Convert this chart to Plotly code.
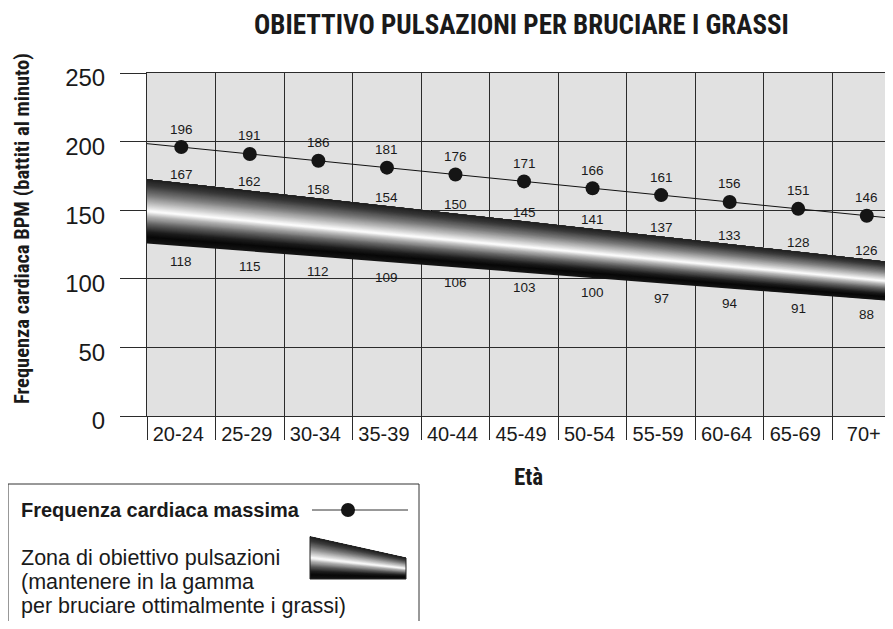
import plotly.graph_objects as go

# ---------------- data ----------------
age_groups = ["20-24", "25-29", "30-34", "35-39", "40-44", "45-49",
              "50-54", "55-59", "60-64", "65-69", "70+"]
max_hr = [196, 191, 186, 181, 176, 171, 166, 161, 156, 151, 146]
zone_upper = [167, 162, 158, 154, 150, 145, 141, 137, 133, 128, 126]
zone_lower = [118, 115, 112, 109, 106, 103, 100, 97, 94, 91, 88]
# drawn band edges at the outer column boundaries (left, right)
band_top_edge = [172.5, 111.4]
band_bottom_edge = [125.8, 83.2]
y_ticks = [0, 50, 100, 150, 200, 250]

title_text = "OBIETTIVO PULSAZIONI PER BRUCIARE I GRASSI"
y_title = "Frequenza cardiaca BPM (battiti al minuto)"
x_title = "Età"
legend_max = "Frequenza cardiaca massima"
legend_zone = ["Zona di obiettivo pulsazioni", "(mantenere in la gamma",
               "per bruciare ottimalmente i grassi)"]

# ---------------- geometry / style ----------------
OFF = 8                      # page body margin
W, H = 893 - OFF, 629 - 2 * OFF
L, R_EDGE, T, B = 147, 893, 73, 416   # page coordinates of plot area
SANS = "Liberation Sans, Arial, Helvetica, sans-serif"
COND = "Liberation Sans Narrow, Arial Narrow, Roboto Condensed, DejaVu Sans Condensed, sans-serif"
INK = "#1a1a1a"
GRID = "#2b2b2b"
COL_W = 68.55


def px(x):
    return (x - L) / (R_EDGE - L)


def py(y):
    return (B - y) / (B - T)


# gray profile across the band (top -> bottom)
stops = [(0.0, 30), (0.1, 55), (0.25, 120), (0.4, 200), (0.5, 255),
         (0.58, 180), (0.7, 95), (0.82, 28), (0.9, 8), (1.0, 22)]


def gray(f):
    for (f0, g0), (f1, g1) in zip(stops[:-1], stops[1:]):
        if f0 <= f <= f1:
            g = g0 + (g1 - g0) * (f - f0) / (f1 - f0)
            g = int(round(g))
            return f"rgb({g},{g},{g})"
    return "rgb(20,20,20)"


n = len(age_groups)
idx = list(range(n))
x_edges = [-0.5, n - 0.5]
x_right = -0.5 + (R_EDGE - L) / COL_W

fig = go.Figure()

# gradient band as overlapping polygons
N = 64
for k in reversed(range(N)):
    f = (k + 1) / N
    b0 = band_top_edge[0] + (band_bottom_edge[0] - band_top_edge[0]) * f
    b1 = band_top_edge[1] + (band_bottom_edge[1] - band_top_edge[1]) * f
    fig.add_trace(go.Scatter(
        x=[x_edges[0], x_edges[1], x_edges[1], x_edges[0]],
        y=[band_top_edge[0], band_top_edge[1], b1, b0],
        mode="lines", fill="toself", fillcolor=gray((k + 0.5) / N),
        line=dict(width=0), hoverinfo="skip", showlegend=False))

# max heart-rate line, extended to column boundaries
ext_x = [-0.5] + idx + [n - 0.5]
ext_y = ([max_hr[0] - (max_hr[1] - max_hr[0]) / 2] + max_hr +
         [max_hr[-1] + (max_hr[-1] - max_hr[-2]) / 2])
fig.add_trace(go.Scatter(x=ext_x, y=ext_y, mode="lines",
                         line=dict(color="#111", width=1),
                         hoverinfo="skip", showlegend=False))
fig.add_trace(go.Scatter(x=idx, y=max_hr, mode="markers",
                         marker=dict(size=14, color="#151515"),
                         showlegend=False))


def edge_at(edge, i):
    t = (i - x_edges[0]) / (x_edges[1] - x_edges[0])
    return edge[0] + (edge[1] - edge[0]) * t


ann = []
lab_font = dict(family=SANS, size=13.5, color=INK)
for i in idx:
    ann.append(dict(x=i, y=max_hr[i], xref="x", yref="y", text=str(max_hr[i]),
                    showarrow=False, yshift=18, font=lab_font))
    ann.append(dict(x=i, y=edge_at(band_top_edge, i), xref="x", yref="y",
                    text=str(zone_upper[i]), showarrow=False, yshift=9,
                    yanchor="middle", font=lab_font))
    ann.append(dict(x=i, y=edge_at(band_bottom_edge, i), xref="x", yref="y",
                    text=str(zone_lower[i]), showarrow=False, yshift=-15,
                    yanchor="middle", font=lab_font))

# titles
ann.append(dict(x=px(521), y=py(25), xref="paper", yref="paper",
                text=f"<b>{title_text}</b>", showarrow=False,
                xanchor="center", yanchor="middle",
                font=dict(family=COND, size=27, color=INK)))
ann.append(dict(x=px(22), y=py(229), xref="paper", yref="paper",
                text=f"<b>{y_title}</b>", showarrow=False, textangle=-90,
                xanchor="center", yanchor="middle",
                font=dict(family=COND, size=20.5, color=INK)))
ann.append(dict(x=px(528), y=py(477), xref="paper", yref="paper",
                text=f"<b>{x_title}</b>", showarrow=False,
                xanchor="center", yanchor="middle",
                font=dict(family=COND, size=23, color=INK)))

# legend texts
ann.append(dict(x=px(19), y=py(510), xref="paper", yref="paper",
                text=f"<b>{legend_max}</b>", showarrow=False,
                xanchor="left", yanchor="middle",
                font=dict(family=SANS, size=20, color=INK)))
for j, line in enumerate(legend_zone):
    ann.append(dict(x=px(19), y=py(558 + 24 * j), xref="paper", yref="paper",
                    text=line, showarrow=False, xanchor="left", yanchor="middle",
                    font=dict(family=SANS, size=21.5, color=INK)))

shapes = []
# legend box (bottom clipped)
box_col = "#333"
shapes.append(dict(type="line", xref="paper", yref="paper", x0=px(8), x1=px(419),
                   y0=py(484), y1=py(484), line=dict(color=box_col, width=1)))
shapes.append(dict(type="line", xref="paper", yref="paper", x0=px(8), x1=px(8),
                   y0=py(484), y1=py(640), line=dict(color=box_col, width=1)))
shapes.append(dict(type="line", xref="paper", yref="paper", x0=px(419), x1=px(419),
                   y0=py(484), y1=py(640), line=dict(color=box_col, width=1)))
# legend line + dot
shapes.append(dict(type="line", xref="paper", yref="paper", x0=px(312), x1=px(408),
                   y0=py(510), y1=py(510), line=dict(color="#333", width=1)))
shapes.append(dict(type="circle", xref="paper", yref="paper", x0=px(341), x1=px(355),
                   y0=py(503), y1=py(517), fillcolor="#151515",
                   line=dict(color="#151515", width=0)))
# legend gradient trapezoid
lx0, lx1 = 310, 406
ltop0, ltop1, lbot = 536.7, 558, 579
M = 40
for k in reversed(range(M)):
    f = (k + 1) / M
    yl = ltop0 + (lbot - ltop0) * f
    yr = ltop1 + (lbot - ltop1) * f
    path = (f"M {px(lx0)},{py(ltop0)} L {px(lx1)},{py(ltop1)} "
            f"L {px(lx1)},{py(yr)} L {px(lx0)},{py(yl)} Z")
    shapes.append(dict(type="path", xref="paper", yref="paper", path=path,
                       fillcolor=gray((k + 0.5) / M), line=dict(width=0)))
outline = (f"M {px(lx0)},{py(ltop0)} L {px(lx1)},{py(ltop1)} "
           f"L {px(lx1)},{py(lbot)} L {px(lx0)},{py(lbot)} Z")
shapes.append(dict(type="path", xref="paper", yref="paper", path=outline,
                   line=dict(color="#222", width=1)))

boundaries = [i - 0.5 for i in range(n + 1)]

fig.update_layout(
    width=W, height=H,
    margin=dict(l=L - OFF, r=0, t=T - OFF, b=H - (B - OFF), pad=0),
    paper_bgcolor="white", plot_bgcolor="#e1e1e1",
    showlegend=False,
    annotations=ann, shapes=shapes,
    xaxis=dict(
        range=[-0.5, x_right], tickmode="array", tickvals=idx, ticktext=age_groups,
        ticks="", showgrid=False, zeroline=False,
        showline=True, linecolor=GRID, linewidth=1, mirror=True,
        tickfont=dict(family=SANS, size=20, color=INK),
        ticklabelshift=-3, ticklabelstandoff=0,
        minor=dict(tickmode="array", tickvals=boundaries, ticks="outside",
                   ticklen=23, tickcolor=GRID, tickwidth=1,
                   showgrid=True, gridcolor=GRID, gridwidth=1),
    ),
    yaxis=dict(
        range=[0, 250], tickmode="array", tickvals=y_ticks,
        ticks="outside", ticklen=26, tickcolor=GRID, tickwidth=1,
        showgrid=True, gridcolor=GRID, gridwidth=1, zeroline=False,
        showline=True, linecolor=GRID, linewidth=1,
        tickfont=dict(family=SANS, size=24, color=INK),
        ticklabelstandoff=10, ticklabelshift=5,
    ),
)

fig.write_html("out.html")
